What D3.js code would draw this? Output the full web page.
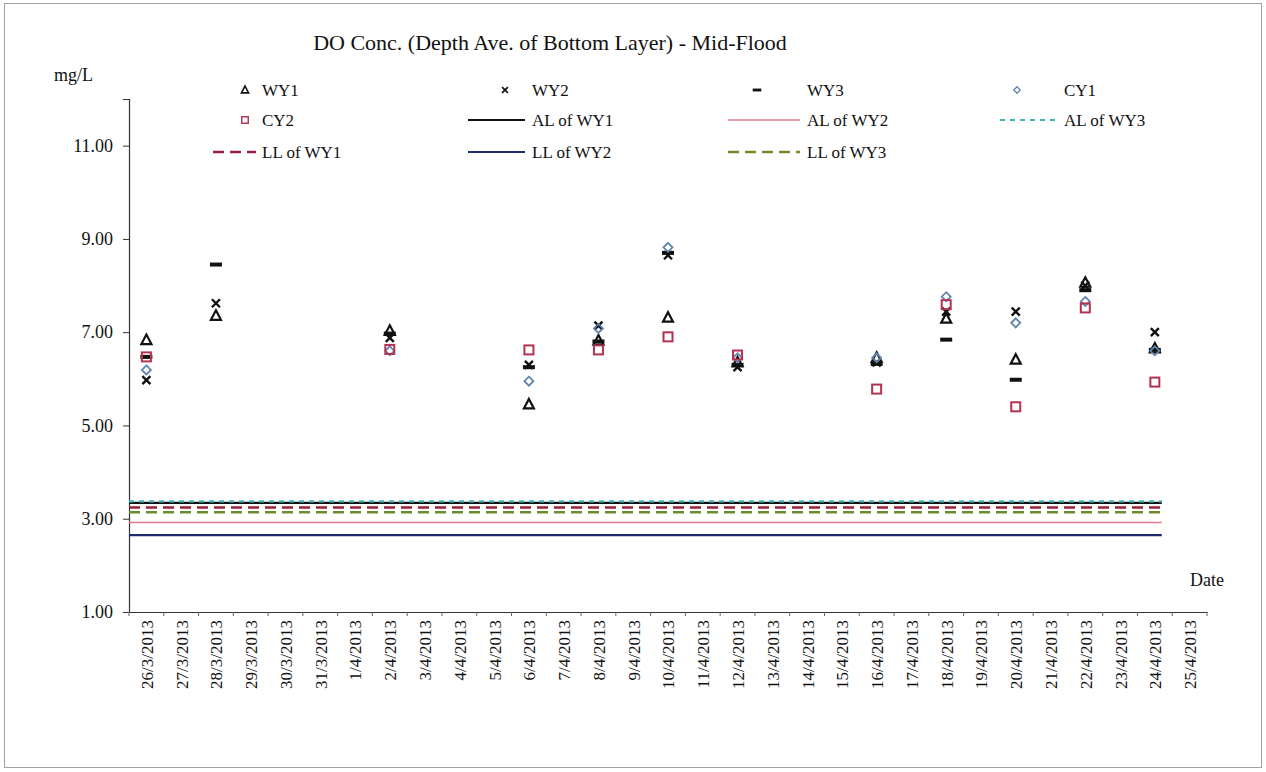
<!DOCTYPE html>
<html>
<head>
<meta charset="utf-8">
<script src="https://cdnjs.cloudflare.com/ajax/libs/d3/7.8.5/d3.min.js"></script>
<style>
  html, body { margin: 0; padding: 0; background: #fff; }
  svg text { font-family: "Liberation Serif", "Times New Roman", serif; fill: #111; }
</style>
</head>
<body>
<svg id="chart" width="1266" height="772"></svg>
<script>
// Category axis: every day from 26/3/2013 to 25/4/2013
const dates = [
  "26/3/2013","27/3/2013","28/3/2013","29/3/2013","30/3/2013","31/3/2013",
  "1/4/2013","2/4/2013","3/4/2013","4/4/2013","5/4/2013","6/4/2013","7/4/2013",
  "8/4/2013","9/4/2013","10/4/2013","11/4/2013","12/4/2013","13/4/2013","14/4/2013",
  "15/4/2013","16/4/2013","17/4/2013","18/4/2013","19/4/2013","20/4/2013","21/4/2013",
  "22/4/2013","23/4/2013","24/4/2013","25/4/2013"
];

// Survey days with measurements
const sampleDates = ["26/3/2013","28/3/2013","2/4/2013","6/4/2013","8/4/2013","10/4/2013",
                     "12/4/2013","16/4/2013","18/4/2013","20/4/2013","22/4/2013","24/4/2013"];

// DO (mg/L), depth-averaged bottom layer, per station
const WY1 = [6.83, 7.35, 7.03, 5.45, 6.82, 7.31, 6.35, 6.45, 7.29, 6.41, 8.06, 6.65];
const WY2 = [5.97, 7.62, 6.88, 6.30, 7.14, 8.65, 6.25, 6.35, 7.44, 7.44, 8.00, 7.00];
const WY3 = [6.47, 8.45, 6.97, 6.25, 6.80, 8.70, 6.30, 6.32, 6.84, 5.98, 7.90, 6.62];
const CY1 = [6.19, null, 6.60, 5.95, 7.08, 8.82, 6.45, 6.45, 7.76, 7.20, 7.66, 6.60];
const CY2 = [6.47, null, 6.63, 6.62, 6.62, 6.90, 6.51, 5.78, 7.59, 5.40, 7.52, 5.93];

// Action / limit levels (mg/L)
const levelNames  = ["AL of WY1", "AL of WY2", "AL of WY3", "LL of WY1", "LL of WY2", "LL of WY3"];
const levelValues = [3.34, 2.92, 3.37, 3.24, 2.65, 3.14];

const yTicks = [1, 3, 5, 7, 9, 11];

const svg = d3.select("#chart");
const W = 1266, H = 772;

// outer frame
svg.append("rect").attr("x", 4.5).attr("y", 3.5).attr("width", W - 9).attr("height", H - 8)
  .attr("fill", "#fff").attr("stroke", "#a0a0a0").attr("stroke-width", 1);

const plot = { left: 129, right: 1207, top: 99, bottom: 612 };

const x = d3.scalePoint().domain(dates).range([plot.left, plot.right]).padding(0.5);
const step = x.step();
const y = d3.scaleLinear().domain([1, 12]).range([plot.bottom, plot.top]);

// Title and unit
svg.append("text").attr("x", 550).attr("y", 50).attr("text-anchor", "middle")
  .style("font-size", "22px").text("DO Conc. (Depth Ave. of Bottom Layer) - Mid-Flood");
svg.append("text").attr("x", 54).attr("y", 81).style("font-size", "18px").text("mg/L");

// Y axis
const yAxis = d3.axisLeft(y).tickValues(yTicks).tickFormat(d3.format(".2f")).tickSize(6).tickPadding(10);
const gy = svg.append("g").attr("transform", `translate(${plot.left},0)`).call(yAxis);
gy.select(".domain").attr("stroke", "#333").attr("stroke-width", 1.2);
gy.selectAll(".tick line").attr("stroke", "#333");
gy.selectAll(".tick text").style("font-size", "18px").attr("fill", "#111")
  .style("font-family", "'Liberation Serif', 'Times New Roman', serif");

// X axis
const xAxis = d3.axisBottom(x).tickSize(0).tickPadding(8);
const gx = svg.append("g").attr("transform", `translate(0,${plot.bottom})`).call(xAxis);
gx.select(".domain").attr("stroke", "#333").attr("stroke-width", 1.2);
gx.selectAll(".tick text")
  .style("font-size", "17px").attr("fill", "#111")
  .style("font-family", "'Liberation Serif', 'Times New Roman', serif")
  .attr("text-anchor", "end")
  .attr("transform", "rotate(-90)")
  .attr("x", -8).attr("y", 0).attr("dy", "0.35em");
// category boundary ticks
gx.selectAll(".bound").data(d3.range(dates.length + 1)).enter().append("line")
  .attr("x1", i => plot.left + i * step).attr("x2", i => plot.left + i * step)
  .attr("y1", 0).attr("y2", 4).attr("stroke", "#666");

svg.append("text").attr("x", 1190).attr("y", 586).style("font-size", "18px").text("Date");

// Level lines
const levelStyle = {
  "AL of WY1": { color: "#111111", width: 2.2, dash: null },
  "AL of WY2": { color: "#e5798a", width: 1.6, dash: null },
  "AL of WY3": { color: "#3fb7b4", width: 2.2, dash: "5,5" },
  "LL of WY1": { color: "#9c1f3c", width: 2.6, dash: "11,6" },
  "LL of WY2": { color: "#1f2a6e", width: 2.2, dash: null },
  "LL of WY3": { color: "#6e8b2a", width: 2.6, dash: "11,6" }
};
const lineX0 = plot.left;
const lineX1 = x("24/4/2013") + step * 0.2;
const levels = levelNames.map((n, i) => ({ name: n, value: levelValues[i] }));
const drawOrder = ["LL of WY2", "AL of WY2", "LL of WY3", "LL of WY1", "AL of WY1", "AL of WY3"];
svg.append("g").selectAll("line")
  .data(drawOrder.map(n => levels.find(l => l.name === n)))
  .enter().append("line")
  .attr("x1", lineX0).attr("x2", lineX1)
  .attr("y1", d => y(d.value)).attr("y2", d => y(d.value))
  .attr("stroke", d => levelStyle[d.name].color)
  .attr("stroke-width", d => levelStyle[d.name].width)
  .attr("stroke-dasharray", d => levelStyle[d.name].dash);

// Marker drawers
const markers = {
  WY1: g => g.append("path").attr("d", "M0,-5.5L5,4L-5,4Z").attr("fill", "none")
              .attr("stroke", "#111").attr("stroke-width", 2.2),
  WY2: g => g.append("path").attr("d", "M-4,-4L4,4M-4,4L4,-4").attr("fill", "none")
              .attr("stroke", "#111").attr("stroke-width", 2.4),
  WY3: g => g.append("rect").attr("x", -6).attr("y", -2).attr("width", 12).attr("height", 4)
              .attr("fill", "#111"),
  CY1: g => g.append("path").attr("d", "M0,-4.5L4.5,0L0,4.5L-4.5,0Z").attr("fill", "none")
              .attr("stroke", "#5f84ad").attr("stroke-width", 1.8),
  CY2: g => g.append("rect").attr("x", -4.5).attr("y", -4.5).attr("width", 9).attr("height", 9)
              .attr("fill", "none").attr("stroke", "#b3324f").attr("stroke-width", 2)
};

const series = [
  { name: "WY1", values: WY1 },
  { name: "WY2", values: WY2 },
  { name: "WY3", values: WY3 },
  { name: "CY1", values: CY1 },
  { name: "CY2", values: CY2 }
];

const pts = svg.append("g");
series.forEach(s => {
  s.values.forEach((v, i) => {
    if (v == null) return;
    const g = pts.append("g").attr("transform", `translate(${x(sampleDates[i])},${y(v)})`);
    markers[s.name](g);
  });
});

// Legend
const legend = svg.append("g").style("font-size", "17px");
const legendItems = [
  { label: "WY1", type: "marker", col: 0, row: 0 },
  { label: "WY2", type: "marker", col: 1, row: 0 },
  { label: "WY3", type: "marker", col: 2, row: 0 },
  { label: "CY1", type: "marker", col: 3, row: 0 },
  { label: "CY2", type: "marker", col: 0, row: 1 },
  { label: "AL of WY1", type: "line", col: 1, row: 1 },
  { label: "AL of WY2", type: "line", col: 2, row: 1 },
  { label: "AL of WY3", type: "line", col: 3, row: 1 },
  { label: "LL of WY1", type: "line", col: 0, row: 2 },
  { label: "LL of WY2", type: "line", col: 1, row: 2 },
  { label: "LL of WY3", type: "line", col: 2, row: 2 }
];
const colText = [258, 528, 803, 1060];
const colMarker = [245, 505, 757, 1017];
const colLine = [[213, 256], [468, 525], [728, 800], [1000, 1055]];
const rowY = [90, 120, 152];
legendItems.forEach(it => {
  const ty = rowY[it.row];
  const tx = colText[it.col];
  if (it.type === "marker") {
    const g = legend.append("g")
      .attr("transform", `translate(${colMarker[it.col]},${ty}) scale(0.72)`);
    markers[it.label](g);
  } else {
    const st = levelStyle[it.label];
    const [a, b] = colLine[it.col];
    legend.append("line").attr("x1", a).attr("x2", b).attr("y1", ty).attr("y2", ty)
      .attr("stroke", st.color).attr("stroke-width", st.width).attr("stroke-dasharray", st.dash);
  }
  legend.append("text").attr("x", tx + 4).attr("y", ty).attr("dy", "0.35em").text(it.label);
});
</script>
</body>
</html>
